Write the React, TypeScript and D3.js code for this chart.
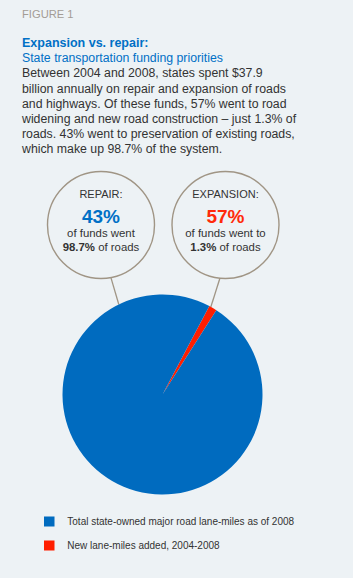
import React from "react";
import * as d3 from "d3";

const W = 353;
const H = 578;

const figureLabel = "FIGURE 1";
const title = "Expansion vs. repair:";
const subtitle = "State transportation funding priorities";
const bodyLines = [
  "Between 2004 and 2008, states spent $37.9",
  "billion annually on repair and expansion of roads",
  "and highways. Of these funds, 57% went to road",
  "widening and new road construction \u2013 just 1.3% of",
  "roads. 43% went to preservation of existing roads,",
  "which make up 98.7% of the system.",
];

// pie data: share of road lane-miles
const categories = ["New lane-miles added, 2004-2008", "Total state-owned major road lane-miles as of 2008"];
const values = [1.3, 98.7];
const colors = ["#FF1E00", "#006BBF"];

// callouts
const calloutHeads = ["REPAIR:", "EXPANSION:"];
const calloutPcts = ["43%", "57%"];
const calloutLine1 = ["of funds went", "of funds went to"];
const calloutBold = ["98.7%", "1.3%"];
const calloutRest = [" of roads", " of roads"];
const calloutColors = ["#0070C6", "#FF2A0A"];

// legend order (as shown)
const legendOrder = [1, 0];

const FONT = "'Liberation Sans', Arial, Helvetica, sans-serif";

export default function App() {
  const cx = 162.5;
  const cy = 394.5;
  const r = 100;
  const startDeg = 27.9;

  const pie = d3
    .pie<number>()
    .sort(null)
    .value((d) => d)
    .startAngle((startDeg * Math.PI) / 180)
    .endAngle((startDeg * Math.PI) / 180 + 2 * Math.PI);
  const arcs = pie(values);
  const arcGen = d3.arc<d3.PieArcDatum<number>>().innerRadius(0).outerRadius(r);

  const circleR = 53.5;
  const circleCy = 225;
  const circleCx = [101, 225.5];
  // connectors: attach angle on callout circle (deg from down, clockwise neg), and pie angle
  const attachDeg = [10.7, -6];
  const pieDeg = [-25.9, 28.9];

  return (
    <svg
      width={W}
      height={H}
      style={{ position: "absolute", left: 0, top: 0, display: "block" }}
      fontFamily={FONT}
    >
      <rect x={0} y={0} width={W} height={H} fill="#EDF2F5" />
      <text x={22} y={17.5} fontSize={11.2} fill="#A39C95">
        {figureLabel}
      </text>
      <text x={22} y={46.7} fontSize={12.5} fontWeight="bold" fill="#0070C6">
        {title}
      </text>
      <text x={22} y={61.7} fontSize={12.3} fill="#0070C6">
        {subtitle}
      </text>
      {bodyLines.map((l, i) => (
        <text key={i} x={22} y={77.3 + i * 15.2} fontSize={12.3} fill="#333333">
          {l}
        </text>
      ))}

      {/* connectors */}
      {circleCx.map((ccx, i) => {
        const a = (attachDeg[i] * Math.PI) / 180;
        const x1 = ccx + circleR * Math.sin(a);
        const y1 = circleCy + circleR * Math.cos(a);
        const p = (pieDeg[i] * Math.PI) / 180;
        const x2 = cx + r * Math.sin(p);
        const y2 = cy - r * Math.cos(p);
        return <line key={i} x1={x1} y1={y1} x2={x2} y2={y2} stroke="#A09585" strokeWidth={1.3} />;
      })}

      {/* callout circles */}
      {circleCx.map((ccx, i) => (
        <g key={i} textAnchor="middle" fill="#333333">
          <circle cx={ccx} cy={circleCy} r={circleR} fill="none" stroke="#A09585" strokeWidth={1.4} />
          <text x={ccx} y={198.3} fontSize={11}>
            {calloutHeads[i]}
          </text>
          <text x={ccx} y={223.3} fontSize={19} fontWeight="bold" fill={calloutColors[i]}>
            {calloutPcts[i]}
          </text>
          <text x={ccx} y={237.3} fontSize={11.4}>
            {calloutLine1[i]}
          </text>
          <text x={ccx} y={251.3} fontSize={11.4}>
            <tspan fontWeight="bold">{calloutBold[i]}</tspan>
            <tspan>{calloutRest[i]}</tspan>
          </text>
        </g>
      ))}

      {/* pie */}
      <g transform={`translate(${cx},${cy})`}>
        {arcs.map((a, i) => (
          <path key={i} d={arcGen(a) || ""} fill={colors[i]} />
        ))}
      </g>

      {/* legend */}
      {legendOrder.map((idx, j) => (
        <g key={idx} transform={`translate(44,${516.5 + j * 24})`}>
          <rect x={0} y={0} width={10.5} height={10} fill={colors[idx]} />
          <text x={23.3} y={8} fontSize={10} fill="#333333">
            {categories[idx]}
          </text>
        </g>
      ))}
    </svg>
  );
}
